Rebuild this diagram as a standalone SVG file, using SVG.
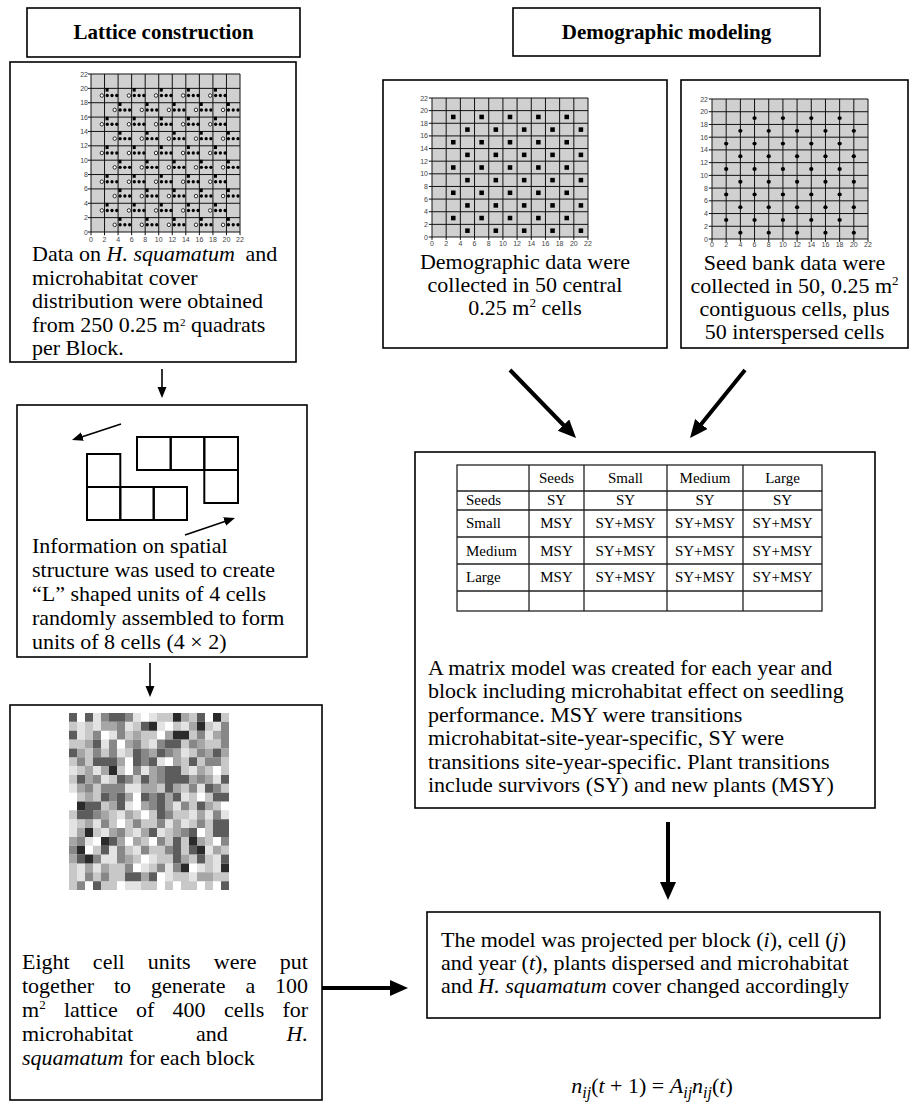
<svg xmlns="http://www.w3.org/2000/svg" xmlns:xlink="http://www.w3.org/1999/xlink" width="918" height="1117" viewBox="0 0 918 1117">
<style>
.t{font-family:"Liberation Serif","Times New Roman",serif;font-size:22px;fill:#000}
.h{font-family:"Liberation Serif","Times New Roman",serif;font-weight:bold;font-size:21px;text-anchor:middle}
.c{text-anchor:middle}
.i{font-style:italic}
.b{fill:none;stroke:#000;stroke-width:1.6}
.ax{font-family:"Liberation Sans",Arial,sans-serif;font-size:7px;fill:#444}
.ax .e{text-anchor:end}
.ax .m{text-anchor:middle}
.tb{font-family:"Liberation Serif","Times New Roman",serif;font-size:15px}
.cn line{stroke:#000}
</style>
<defs>
<marker id="m1" markerUnits="userSpaceOnUse" markerWidth="12" markerHeight="10" refX="1" refY="4.5" orient="auto"><path d="M0,0L11,4.5L0,9z"/></marker>
<marker id="m2" markerUnits="userSpaceOnUse" markerWidth="20" markerHeight="18" refX="2" refY="8" orient="auto"><path d="M0,0L18,8L0,16z"/></marker>
<path id="grid" fill="none" stroke="#111" stroke-width="1" vector-effect="non-scaling-stroke" d="M0 0V-22M2 0V-22M4 0V-22M6 0V-22M8 0V-22M10 0V-22M12 0V-22M14 0V-22M16 0V-22M18 0V-22M20 0V-22M22 0V-22M0 0H22M0 -2H22M0 -4H22M0 -6H22M0 -8H22M0 -10H22M0 -12H22M0 -14H22M0 -16H22M0 -18H22M0 -20H22M0 -22H22M-.45 0H0M-.45 -2H0M-.45 -4H0M-.45 -6H0M-.45 -8H0M-.45 -10H0M-.45 -12H0M-.45 -14H0M-.45 -16H0M-.45 -18H0M-.45 -20H0M-.45 -22H0M0 0V.45M2 0V.45M4 0V.45M6 0V.45M8 0V.45M10 0V.45M12 0V.45M14 0V.45M16 0V.45M18 0V.45M20 0V.45M22 0V.45"/>
<g id="ca"><circle r=".25" fill="#fff" stroke="#000" stroke-width=".8" vector-effect="non-scaling-stroke"/><rect x=".55" y="-1.05" width=".45" height=".5"/><circle cx=".8" r=".24"/><circle cx="1.5" r=".24"/><circle cx="2.2" r=".24"/></g>
<g id="ra"><use xlink:href="#ca" x="1.6"/><use xlink:href="#ca" x="5.6"/><use xlink:href="#ca" x="9.6"/><use xlink:href="#ca" x="13.6"/><use xlink:href="#ca" x="17.6"/></g>
<rect id="sb" x="-.32" y="-.36" width=".64" height=".72"/>
<g id="rb"><use xlink:href="#sb" x="3"/><use xlink:href="#sb" x="7"/><use xlink:href="#sb" x="11"/><use xlink:href="#sb" x="15"/><use xlink:href="#sb" x="19"/></g>
<circle id="dc" r=".3"/>
<g id="rc"><use xlink:href="#dc" x="2"/><use xlink:href="#dc" x="6"/><use xlink:href="#dc" x="10"/><use xlink:href="#dc" x="14"/><use xlink:href="#dc" x="18"/></g>
<filter id="bl" x="-5%" y="-5%" width="110%" height="110%"><feGaussianBlur stdDeviation="0.6"/></filter>
</defs>
<rect width="918" height="1117" fill="#fff"/>

<g id="hdr1"><rect class="b" x="27" y="8" width="273" height="49"/><text class="h" x="163.5" y="39" font-size="23">Lattice construction</text></g>
<g id="hdr2"><rect class="b" x="513" y="8" width="307" height="48"/><text class="h" x="666.5" y="39">Demographic modeling</text></g>

<g id="boxA">
<rect class="b" x="10" y="62" width="286" height="300"/>
<g transform="translate(91,232) scale(6.773,7.182)">
<rect x="0" y="-22" width="22" height="22" fill="#d0d0d0"/>
<use xlink:href="#grid"/>
<use xlink:href="#ra" y="-19"/><use xlink:href="#ra" y="-15"/><use xlink:href="#ra" y="-11"/><use xlink:href="#ra" y="-7"/><use xlink:href="#ra" y="-3"/>
<use xlink:href="#ra" x="1.9" y="-17"/><use xlink:href="#ra" x="1.9" y="-13"/><use xlink:href="#ra" x="1.9" y="-9"/><use xlink:href="#ra" x="1.9" y="-5"/><use xlink:href="#ra" x="1.9" y="-1"/>
</g>
<g class="ax">
<text class="e" x="88" y="234.5">0</text><text class="e" x="88" y="220.1">2</text><text class="e" x="88" y="205.8">4</text><text class="e" x="88" y="191.4">6</text><text class="e" x="88" y="177.1">8</text><text class="e" x="88" y="162.7">10</text><text class="e" x="88" y="148.3">12</text><text class="e" x="88" y="134">14</text><text class="e" x="88" y="119.6">16</text><text class="e" x="88" y="105.3">18</text><text class="e" x="88" y="90.9">20</text><text class="e" x="88" y="76.5">22</text>
<text class="m" x="91" y="242">0</text><text class="m" x="104.5" y="242">2</text><text class="m" x="118.1" y="242">4</text><text class="m" x="131.6" y="242">6</text><text class="m" x="145.2" y="242">8</text><text class="m" x="158.7" y="242">10</text><text class="m" x="172.3" y="242">12</text><text class="m" x="185.8" y="242">14</text><text class="m" x="199.4" y="242">16</text><text class="m" x="212.9" y="242">18</text><text class="m" x="226.5" y="242">20</text><text class="m" x="240" y="242">22</text>
</g>
<text class="t" x="32" y="261" font-size="21">Data on <tspan class="i">H. squamatum</tspan> <tspan dx="5">and</tspan></text>
<text class="t" x="32" y="284.5" font-size="21">microhabitat cover</text>
<text class="t" x="32" y="308" font-size="21">distribution were obtained</text>
<text class="t" x="32" y="331.5" font-size="21">from 250 0.25 m<tspan font-size="11" dy="-6">2</tspan><tspan dy="6"> quadrats</tspan></text>
<text class="t" x="32" y="355" font-size="21">per Block.</text>
</g>

<g id="boxL">
<rect class="b" x="17" y="405" width="290" height="252"/>
<g fill="none" stroke="#000" stroke-width="2">
<rect x="137" y="437" width="33.7" height="33"/><rect x="170.7" y="437" width="33.6" height="33"/><rect x="204.3" y="437" width="33.7" height="33"/><rect x="204.3" y="470" width="33.7" height="33"/>
<rect x="87" y="454" width="33.3" height="33"/><rect x="87" y="487" width="33.3" height="33"/><rect x="120.3" y="487" width="33.4" height="33"/><rect x="153.7" y="487" width="33.3" height="33"/>
</g>
<line x1="121" y1="424" x2="81.5" y2="436.9" stroke="#000" stroke-width="1.6" marker-end="url(#m1)"/>
<line x1="185" y1="535" x2="225.5" y2="521.2" stroke="#000" stroke-width="1.6" marker-end="url(#m1)"/>
<text class="t" x="32" y="553" font-size="23.5">Information on spatial</text>
<text class="t" x="32" y="577" font-size="23.5">structure was used to create</text>
<text class="t" x="32" y="601" font-size="23.5">“L” shaped units of 4 cells</text>
<text class="t" x="32" y="625" font-size="23.5">randomly assembled to form</text>
<text class="t" x="32" y="649" font-size="23.5">units of 8 cells (4 × 2)</text>
</g>

<g id="boxLat">
<rect class="b" x="10" y="705" width="312" height="395"/>
<g filter="url(#bl)"><g transform="translate(69,713) scale(8,8.85)" fill="none" stroke-width="1">
<path stroke="#e3e3e3" d="M3 .5h1M8 .5h1M10 .5h1M1 1.5h1M3 1.5h1M7 1.5h1M11 1.5h1M14 1.5h1M18 1.5h1M1 2.5h1M5 2.5h1M17 2.5h1M4 3.5h1M10 3.5h1M6 4.5h1M14 4.5h1M11 5.5h1M0 6.5h1M3 6.5h1M9 6.5h1M15 6.5h1M4 7.5h1M18 7.5h1M0 8.5h1M7 8.5h2M16 8.5h1M14 9.5h1M7 10.5h1M13 10.5h1M6 11.5h1M15 11.5h1M17 11.5h1M19 11.5h1M0 12.5h1M3 12.5h1M12 12.5h1M14 12.5h1M0 13.5h1M4 13.5h1M8 13.5h1M11 13.5h1M2 14.5h1M5 15.5h1M8 15.5h1M17 15.5h1M4 16.5h2M10 16.5h1M18 16.5h1M1 17.5h1M3 17.5h1M9 17.5h1M12 17.5h1M16 17.5h1M18 17.5h1M1 18.5h1M12 18.5h1M15 18.5h1M7 19.5h2"/>
<path stroke="#c8c8c8" d="M11 .5h2M15 .5h1M19 .5h1M0 1.5h1M2 1.5h1M8 1.5h1M13 1.5h1M17 1.5h1M2 2.5h1M7 2.5h1M9 2.5h2M15 2.5h1M0 3.5h2M9 3.5h1M14 3.5h1M17 3.5h2M2 4.5h1M4 4.5h1M7 4.5h1M15 4.5h1M0 5.5h1M2 5.5h1M14 5.5h1M16 5.5h1M19 5.5h1M1 6.5h1M6 6.5h1M14 6.5h1M17 6.5h1M19 6.5h1M0 7.5h1M5 7.5h1M8 7.5h1M3 8.5h1M11 8.5h1M14 8.5h1M19 8.5h1M1 9.5h1M3 9.5h1M15 9.5h1M17 9.5h1M4 10.5h1M15 10.5h1M18 10.5h1M0 11.5h1M5 11.5h1M8 11.5h1M10 11.5h1M13 11.5h2M1 12.5h1M5 12.5h1M7 12.5h1M9 12.5h2M15 12.5h1M17 12.5h1M3 13.5h1M7 13.5h1M12 13.5h1M17 13.5h1M9 14.5h1M12 14.5h1M14 14.5h1M17 14.5h1M3 15.5h1M7 15.5h1M10 15.5h2M14 15.5h1M19 15.5h1M8 16.5h1M11 16.5h2M15 16.5h1M17 16.5h1M0 17.5h1M5 17.5h2M10 17.5h1M17 17.5h1M0 18.5h1M3 18.5h1M5 18.5h2M13 18.5h2M18 18.5h2M0 19.5h1M4 19.5h2M9 19.5h2M12 19.5h1M14 19.5h2M17 19.5h1"/>
<path stroke="#a6a6a6" d="M14 .5h1M4 1.5h2M15 1.5h1M8 2.5h1M12 2.5h1M18 2.5h1M2 3.5h1M7 3.5h1M16 3.5h1M1 4.5h1M10 4.5h1M13 4.5h1M17 4.5h1M19 4.5h1M6 5.5h1M13 5.5h1M2 6.5h1M4 6.5h1M10 6.5h1M16 6.5h1M2 7.5h1M10 7.5h1M15 7.5h1M17 7.5h1M1 8.5h1M9 8.5h2M13 8.5h1M2 9.5h1M7 9.5h1M12 9.5h1M5 10.5h1M9 10.5h1M12 10.5h1M17 10.5h1M4 11.5h1M7 11.5h1M16 11.5h1M2 12.5h1M13 12.5h1M1 13.5h1M5 13.5h1M9 13.5h1M13 13.5h1M0 14.5h1M6 14.5h1M8 14.5h1M16 14.5h1M18 15.5h1M0 16.5h1M7 16.5h1M14 16.5h1M2 17.5h1M4 17.5h1M9 18.5h1M16 18.5h2"/>
<path stroke="#878787" d="M4 .5h1M7 .5h1M6 1.5h1M19 1.5h1M3 2.5h1M6 2.5h1M16 2.5h1M19 2.5h1M5 3.5h1M8 3.5h1M11 3.5h1M15 3.5h1M19 3.5h1M3 4.5h1M5 4.5h1M9 4.5h1M12 4.5h1M16 4.5h1M1 5.5h1M9 5.5h1M17 5.5h2M8 6.5h1M11 6.5h1M3 7.5h1M7 7.5h1M11 7.5h1M16 7.5h1M2 8.5h1M4 8.5h3M15 8.5h1M18 8.5h1M5 9.5h1M10 9.5h1M10 10.5h1M14 10.5h1M3 11.5h1M12 11.5h1M18 11.5h1M4 12.5h1M8 12.5h1M11 12.5h1M16 12.5h1M6 13.5h1M14 13.5h1M1 14.5h1M11 14.5h1M19 14.5h1M0 15.5h1M6 15.5h1M9 15.5h1M12 15.5h1M3 16.5h1M6 16.5h1M7 17.5h1M11 17.5h1M13 17.5h1M2 18.5h1M4 18.5h1M1 19.5h1"/>
<path stroke="#5c5c5c" d="M0 .5h1M2 .5h1M5 .5h2M16 .5h1M9 1.5h1M0 2.5h1M3 3.5h1M12 3.5h2M0 4.5h1M8 4.5h1M11 4.5h1M18 4.5h1M3 5.5h3M8 5.5h1M10 5.5h1M15 5.5h1M12 6.5h2M1 7.5h1M6 7.5h1M9 7.5h1M12 7.5h3M19 7.5h1M12 8.5h1M17 8.5h1M4 9.5h1M6 9.5h1M9 9.5h1M11 9.5h1M13 9.5h1M18 9.5h2M2 10.5h2M6 10.5h1M11 10.5h1M16 10.5h1M1 11.5h2M11 11.5h1M18 12.5h2M10 13.5h1M15 13.5h1M18 13.5h2M5 14.5h1M13 14.5h1M4 15.5h1M13 15.5h1M15 15.5h1M1 16.5h1M13 16.5h1M16 16.5h1M19 16.5h1M7 18.5h2M10 18.5h1M3 19.5h1M19 19.5h1"/>
<path stroke="#2c2c2c" d="M13 .5h1M18 .5h1M10 1.5h1M16 1.5h1M13 2.5h2M5 6.5h1M1 10.5h1M2 13.5h1M4 14.5h1M15 14.5h1M1 15.5h1M16 15.5h1M2 16.5h1M14 17.5h1M19 17.5h1"/>
</g></g>
<text class="t" x="22" y="969" word-spacing="17.7">Eight cell units were put</text>
<text class="t" x="22" y="993" word-spacing="14.4">together to generate a 100</text>
<text class="t" x="22" y="1017" word-spacing="12.8">m<tspan font-size="13" dy="-8">2</tspan><tspan dy="8"> lattice of 400 cells for</tspan></text>
<text class="t" x="22" y="1041">microhabitat</text>
<text class="t" x="196" y="1041">and</text>
<text class="t i" x="308" y="1041" text-anchor="end">H.</text>
<text class="t" x="22" y="1065"><tspan class="i">squamatum</tspan> for each block</text>
</g>

<g id="boxB">
<rect class="b" x="383" y="80" width="284" height="268"/>
<g transform="translate(432,237) scale(7.091,6.318)">
<rect x="0" y="-22" width="22" height="22" fill="#d0d0d0"/>
<use xlink:href="#grid"/>
<use xlink:href="#rb" y="-19"/><use xlink:href="#rb" y="-15"/><use xlink:href="#rb" y="-11"/><use xlink:href="#rb" y="-7"/><use xlink:href="#rb" y="-3"/>
<use xlink:href="#rb" x="2" y="-17"/><use xlink:href="#rb" x="2" y="-13"/><use xlink:href="#rb" x="2" y="-9"/><use xlink:href="#rb" x="2" y="-5"/><use xlink:href="#rb" x="2" y="-1"/>
</g>
<g class="ax">
<text class="e" x="428" y="239.5">0</text><text class="e" x="428" y="226.9">2</text><text class="e" x="428" y="214.2">4</text><text class="e" x="428" y="201.6">6</text><text class="e" x="428" y="189">8</text><text class="e" x="428" y="176.3">10</text><text class="e" x="428" y="163.7">12</text><text class="e" x="428" y="151">14</text><text class="e" x="428" y="138.4">16</text><text class="e" x="428" y="125.8">18</text><text class="e" x="428" y="113.1">20</text><text class="e" x="428" y="100.5">22</text>
<text class="m" x="432" y="246">0</text><text class="m" x="446.2" y="246">2</text><text class="m" x="460.4" y="246">4</text><text class="m" x="474.5" y="246">6</text><text class="m" x="488.7" y="246">8</text><text class="m" x="502.9" y="246">10</text><text class="m" x="517.1" y="246">12</text><text class="m" x="531.3" y="246">14</text><text class="m" x="545.5" y="246">16</text><text class="m" x="559.6" y="246">18</text><text class="m" x="573.8" y="246">20</text><text class="m" x="588" y="246">22</text>
</g>
<text class="t c" x="525" y="269">Demographic data were</text>
<text class="t c" x="525" y="292">collected in 50 central</text>
<text class="t c" x="525" y="315">0.25 m<tspan font-size="13" dy="-8">2</tspan><tspan dy="8"> cells</tspan></text>
</g>

<g id="boxC">
<rect class="b" x="681" y="80" width="227" height="268"/>
<g transform="translate(712,239) scale(7.091,6.364)">
<rect x="0" y="-22" width="22" height="22" fill="#d0d0d0"/>
<use xlink:href="#grid"/>
<use xlink:href="#dc" x="6" y="-19"/><use xlink:href="#dc" x="10" y="-19"/><use xlink:href="#dc" x="14" y="-19"/><use xlink:href="#dc" x="18" y="-19"/>
<use xlink:href="#rc" y="-15"/><use xlink:href="#rc" y="-11"/><use xlink:href="#rc" y="-7"/><use xlink:href="#rc" y="-3"/>
<use xlink:href="#rc" x="2" y="-17"/><use xlink:href="#rc" x="2" y="-13"/><use xlink:href="#rc" x="2" y="-9"/><use xlink:href="#rc" x="2" y="-5"/><use xlink:href="#rc" x="2" y="-1"/>
</g>
<g class="ax">
<text class="e" x="708" y="241.5">0</text><text class="e" x="708" y="228.8">2</text><text class="e" x="708" y="216">4</text><text class="e" x="708" y="203.3">6</text><text class="e" x="708" y="190.6">8</text><text class="e" x="708" y="177.9">10</text><text class="e" x="708" y="165.1">12</text><text class="e" x="708" y="152.4">14</text><text class="e" x="708" y="139.7">16</text><text class="e" x="708" y="127">18</text><text class="e" x="708" y="114.2">20</text><text class="e" x="708" y="101.5">22</text>
<text class="m" x="712" y="247">0</text><text class="m" x="726.2" y="247">2</text><text class="m" x="740.4" y="247">4</text><text class="m" x="754.5" y="247">6</text><text class="m" x="768.7" y="247">8</text><text class="m" x="782.9" y="247">10</text><text class="m" x="797.1" y="247">12</text><text class="m" x="811.3" y="247">14</text><text class="m" x="825.5" y="247">16</text><text class="m" x="839.6" y="247">18</text><text class="m" x="853.8" y="247">20</text><text class="m" x="868" y="247">22</text>
</g>
<text class="t c" x="794.5" y="270">Seed bank data were</text>
<text class="t c" x="794.5" y="293">collected in 50, 0.25 m<tspan font-size="13" dy="-8">2</tspan></text>
<text class="t c" x="794.5" y="316">contiguous cells, plus</text>
<text class="t c" x="794.5" y="339">50 interspersed cells</text>
</g>

<g id="boxD">
<rect class="b" x="415" y="452" width="460" height="356"/>
<g fill="none" stroke="#222" stroke-width="1.3">
<rect x="457" y="465" width="365" height="146"/>
<path d="M529 465V611M584 465V611M667 465V611M743 465V611M457 491H822M457 510H822M457 537H822M457 564H822M457 591H822"/>
</g>
<g class="tb">
<text class="c" x="556.5" y="483">Seeds</text><text class="c" x="625.5" y="483">Small</text><text class="c" x="705" y="483">Medium</text><text class="c" x="782.5" y="483">Large</text>
<text x="466" y="505">Seeds</text><text class="c" x="556.5" y="505">SY</text><text class="c" x="625.5" y="505">SY</text><text class="c" x="705" y="505">SY</text><text class="c" x="782.5" y="505">SY</text>
<text x="466" y="528">Small</text><text class="c" x="556.5" y="528">MSY</text><text class="c" x="625.5" y="528">SY+MSY</text><text class="c" x="705" y="528">SY+MSY</text><text class="c" x="782.5" y="528">SY+MSY</text>
<text x="466" y="556">Medium</text><text class="c" x="556.5" y="556">MSY</text><text class="c" x="625.5" y="556">SY+MSY</text><text class="c" x="705" y="556">SY+MSY</text><text class="c" x="782.5" y="556">SY+MSY</text>
<text x="466" y="582">Large</text><text class="c" x="556.5" y="582">MSY</text><text class="c" x="625.5" y="582">SY+MSY</text><text class="c" x="705" y="582">SY+MSY</text><text class="c" x="782.5" y="582">SY+MSY</text>
</g>
<text class="t" x="428" y="675" font-size="23">A matrix model was created for each year and</text>
<text class="t" x="428" y="698" font-size="23">block including microhabitat effect on seedling</text>
<text class="t" x="428" y="722" font-size="23">performance. MSY were transitions</text>
<text class="t" x="428" y="745" font-size="23">microhabitat-site-year-specific, SY were</text>
<text class="t" x="428" y="769" font-size="23">transitions site-year-specific. Plant transitions</text>
<text class="t" x="428" y="792" font-size="23">include survivors (SY) and new plants (MSY)</text>
</g>

<g id="boxE">
<rect class="b" x="427" y="912" width="453" height="106"/>
<text class="t" x="441" y="947">The model was projected per block (<tspan class="i">i</tspan>), cell (<tspan class="i">j</tspan>)</text>
<text class="t" x="441" y="970">and year (<tspan class="i">t</tspan>), plants dispersed and microhabitat</text>
<text class="t" x="441" y="993">and <tspan class="i">H. squamatum</tspan> cover changed accordingly</text>
</g>

<g id="formula">
<text class="t c" x="652" y="1093" font-size="28"><tspan class="i">n</tspan><tspan class="i" font-size="16" dy="5">ij</tspan><tspan dy="-5">(</tspan><tspan class="i">t</tspan> + 1) = <tspan class="i">A</tspan><tspan class="i" font-size="16" dy="5">ij</tspan><tspan class="i" dy="-5">n</tspan><tspan class="i" font-size="16" dy="5">ij</tspan><tspan dy="-5">(</tspan><tspan class="i">t</tspan>)</text>
</g>

<g id="connectors" class="cn">
<line x1="162" y1="369" x2="162" y2="388" stroke-width="1.6" marker-end="url(#m1)"/>
<line x1="150" y1="663" x2="150" y2="687" stroke-width="1.6" marker-end="url(#m1)"/>
<line x1="510" y1="370" x2="564.9" y2="426.5" stroke-width="4" marker-end="url(#m2)"/>
<line x1="745" y1="370" x2="700.1" y2="425.6" stroke-width="4" marker-end="url(#m2)"/>
<line x1="668" y1="822" x2="668" y2="884" stroke-width="4" marker-end="url(#m2)"/>
<line x1="322" y1="988" x2="392" y2="988" stroke-width="4" marker-end="url(#m2)"/>
</g>
</svg>
